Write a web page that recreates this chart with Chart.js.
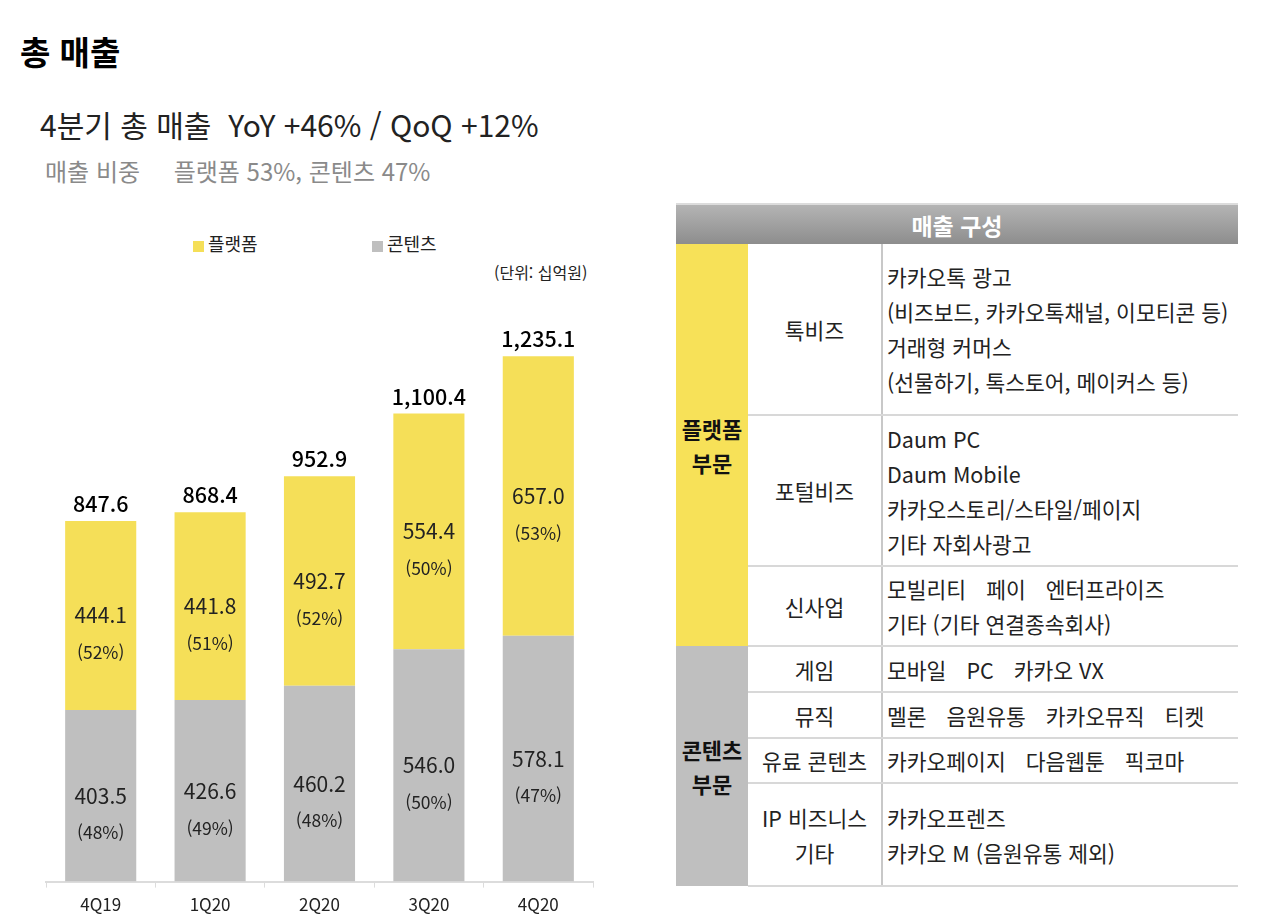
<!DOCTYPE html>
<html lang="ko">
<head>
<meta charset="utf-8">
<title>총 매출</title>
<script src="https://cdn.jsdelivr.net/npm/chart.js@4.4.1/dist/chart.umd.min.js"></script>
<style>
  html, body { margin: 0; padding: 0; background: #fff; }
  body { width: 1280px; height: 922px; position: relative; overflow: hidden;
         font-family: "Noto Sans CJK KR", "Noto Sans", sans-serif; color: #222; }
  .abs { position: absolute; white-space: nowrap; }
  #title { left: 20px; top: 29px; font-size: 33px; font-weight: 700; color: #000; line-height: 44px; }
  #sub { left: 40px; top: 104px; font-size: 30px; line-height: 40px; color: #222; }
  #share { left: 45px; top: 155px; font-size: 24px; line-height: 32px; color: #8a8a8a; }
  .lg { top: 231px; font-size: 18px; line-height: 24px; color: #222; }
  .lg i { display: inline-block; width: 11px; height: 11px; margin-right: 4px; vertical-align: -1px; }
  #unit { left: 494px; top: 261px; font-size: 16px; line-height: 22px; color: #222; }
  #wrap { position: absolute; left: 0; top: 280px; width: 640px; height: 642px; }

  #tbl { position: absolute; left: 676px; top: 203px; width: 562px; border-collapse: collapse;
         font-size: 21.5px; color: #222; table-layout: fixed; }
  #tbl th { height: 39px; padding: 0; color: #fff; font-weight: 700; font-size: 23px;
            background: linear-gradient(#b4b4b4, #8d8d8d); border-top: 2px solid #dcdcdc; }
  #tbl td { padding: 0; line-height: 35px; }
  #tbl td.grp { font-weight: 700; text-align: center; vertical-align: middle; line-height: 34px; color: #111; font-size: 22px; }
  #tbl td.plat { background: #f7e158; }
  #tbl td.cont { background: #bfbfbf; }
  #tbl td.mid { text-align: center; border-right: 2px solid #c8c8c8; border-bottom: 2px solid #d8d8d8; }
  #tbl td.desc { padding-left: 4px; border-bottom: 2px solid #d8d8d8; }
  #tbl td.desc span { margin-right: 14px; }
</style>
</head>
<body>
<div id="title" class="abs">총 매출</div>
<div id="sub" class="abs">4분기 총 매출&nbsp; YoY +46% / QoQ +12%</div>
<div id="share" class="abs">매출 비중&nbsp;&nbsp;&nbsp;&nbsp; 플랫폼 53%, 콘텐츠 47%</div>
<div class="abs lg" style="left:193px"><i style="background:#f5df58"></i>플랫폼</div>
<div class="abs lg" style="left:372px"><i style="background:#bfbfbf"></i>콘텐츠</div>
<div id="unit" class="abs">(단위: 십억원)</div>
<div id="wrap"><canvas id="barChart"></canvas></div>

<table id="tbl">
  <colgroup><col style="width:72px"><col style="width:134px"><col style="width:356px"></colgroup>
  <tr><th colspan="3">매출 구성</th></tr>
  <tr style="height:171px">
    <td rowspan="3" class="grp plat">플랫폼<br>부문</td>
    <td class="mid">톡비즈</td>
    <td class="desc">카카오톡 광고<br>(비즈보드, 카카오톡채널, 이모티콘 등)<br>거래형 커머스<br>(선물하기, 톡스토어, 메이커스 등)</td>
  </tr>
  <tr style="height:151px">
    <td class="mid">포털비즈</td>
    <td class="desc">Daum PC<br>Daum Mobile<br>카카오스토리/스타일/페이지<br>기타 자회사광고</td>
  </tr>
  <tr style="height:80px">
    <td class="mid">신사업</td>
    <td class="desc"><span>모빌리티</span> <span>페이</span> 엔터프라이즈<br>기타 (기타 연결종속회사)</td>
  </tr>
  <tr style="height:46px">
    <td rowspan="4" class="grp cont">콘텐츠<br>부문</td>
    <td class="mid">게임</td>
    <td class="desc"><span>모바일</span> <span>PC</span> 카카오 VX</td>
  </tr>
  <tr style="height:46px">
    <td class="mid">뮤직</td>
    <td class="desc"><span>멜론</span> <span>음원유통</span> <span>카카오뮤직</span> 티켓</td>
  </tr>
  <tr style="height:45px">
    <td class="mid">유료 콘텐츠</td>
    <td class="desc"><span>카카오페이지</span> <span>다음웹툰</span> 픽코마</td>
  </tr>
  <tr style="height:103px">
    <td class="mid">IP 비즈니스<br>기타</td>
    <td class="desc">카카오프렌즈<br>카카오 M (음원유통 제외)</td>
  </tr>
</table>

<script>
// data (십억원)
const quarters = ['4Q19', '1Q20', '2Q20', '3Q20', '4Q20'];
const platform = [444.1, 441.8, 492.7, 554.4, 657.0];
const contents = [403.5, 426.6, 460.2, 546.0, 578.1];
const platformPct = [52, 51, 52, 50, 53];
const contentsPct = [48, 49, 48, 50, 47];
const totals = [847.6, 868.4, 952.9, 1100.4, 1235.1];

const FONT = '"Noto Sans CJK KR", "Noto Sans", sans-serif';

// value + share labels inside each segment, totals on top
const barLabels = {
  id: 'barLabels',
  afterDatasetsDraw(chart) {
    const ctx = chart.ctx;
    const pcts = [contentsPct, platformPct];
    ctx.save();
    ctx.textAlign = 'center';
    ctx.textBaseline = 'middle';
    ctx.fillStyle = '#222';
    chart.data.datasets.forEach((ds, di) => {
      chart.getDatasetMeta(di).data.forEach((bar, i) => {
        const mid = (bar.y + bar.base) / 2;
        ctx.font = '21px ' + FONT;
        ctx.fillText(ds.data[i].toFixed(1), bar.x, mid);
        ctx.font = '17.5px ' + FONT;
        ctx.fillText('(' + pcts[di][i] + '%)', bar.x, mid + 37);
      });
    });
    ctx.fillStyle = '#000';
    ctx.font = '500 21.5px ' + FONT;
    chart.getDatasetMeta(1).data.forEach((bar, i) => {
      const txt = totals[i].toLocaleString('en-US', { minimumFractionDigits: 1 });
      ctx.fillText(txt, bar.x, bar.y - 17);
    });
    ctx.restore();
  }
};

new Chart(document.getElementById('barChart'), {
  type: 'bar',
  data: {
    labels: quarters,
    datasets: [
      { label: '콘텐츠', data: contents, backgroundColor: '#bfbfbf', categoryPercentage: 0.65, barPercentage: 1 },
      { label: '플랫폼', data: platform, backgroundColor: '#f5df58', categoryPercentage: 0.65, barPercentage: 1 }
    ]
  },
  options: {
    responsive: true,
    maintainAspectRatio: false,
    animation: false,
    layout: { padding: { left: 46, right: 47, top: 6, bottom: 0 } },
    plugins: { legend: { display: false }, tooltip: { enabled: false } },
    scales: {
      x: {
        stacked: true,
        grid: { offset: true, drawOnChartArea: false, drawTicks: true, tickLength: 6, color: '#dcdcdc' },
        border: { display: true, color: '#dcdcdc', width: 2 },
        ticks: { color: '#222', padding: 7, font: { family: FONT, size: 17 } }
      },
      y: { stacked: true, display: false, min: 0, max: 1400 }
    }
  },
  plugins: [barLabels]
});
</script>
</body>
</html>
